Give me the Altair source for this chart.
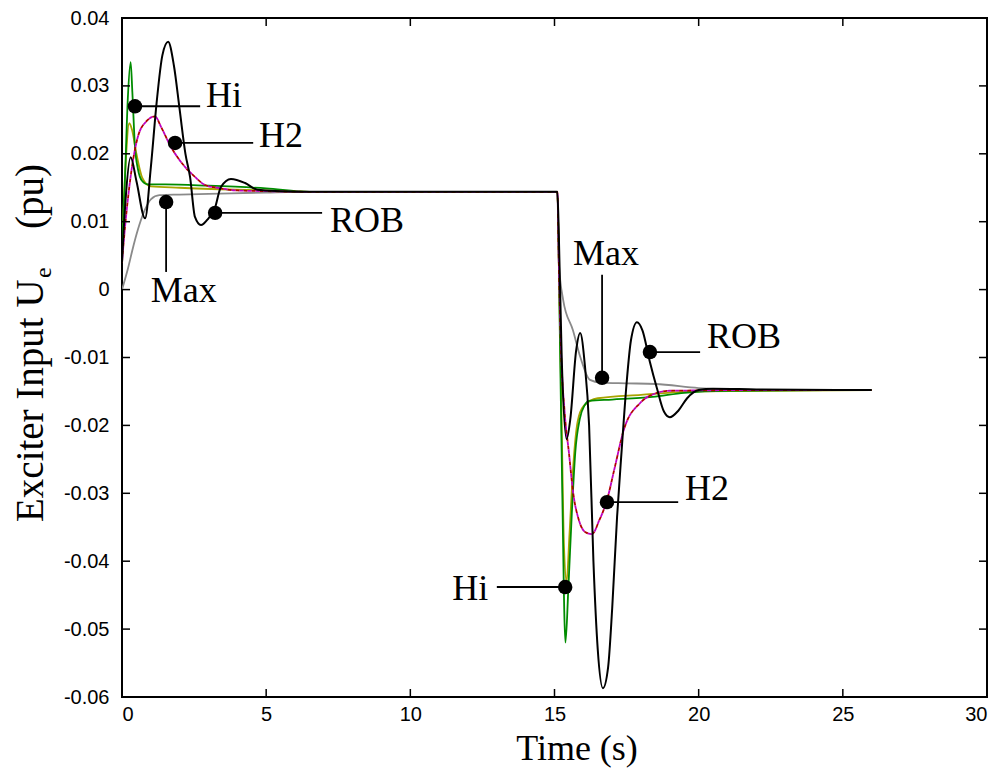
import altair as alt
import pandas as pd

# ---------------- data ----------------
rob_t = [0, 0.12, 0.3, 0.5, 0.8, 1.0, 1.2, 1.4, 1.6, 1.8, 2.0, 2.2, 2.36, 2.53, 2.74, 3.0, 3.2, 3.43,
         3.78, 4.27, 4.7, 5.5, 6.5, 10, 15.1, 15.15, 15.25, 15.42, 15.55, 15.75, 15.89, 16.05, 16.2,
         16.35, 16.5, 16.68, 16.86, 17.0, 17.17, 17.33, 17.5, 17.65, 17.86, 18.05, 18.3, 18.55, 18.8,
         19.0, 19.3, 19.6, 20.0, 20.5, 22, 26]
rob_v = [0.004, 0.013, 0.0195, 0.016, 0.0105, 0.018, 0.0275, 0.0345, 0.0365, 0.033, 0.0265, 0.020,
         0.0166, 0.0107, 0.0095, 0.0105, 0.0117, 0.0151, 0.0163, 0.0157, 0.0147, 0.0145, 0.0144,
         0.0144, 0.0144, 0.008, -0.010, -0.022, -0.019, -0.009, -0.0064, -0.011, -0.020, -0.040,
         -0.053, -0.0587, -0.0556, -0.047, -0.0335, -0.0236, -0.0138, -0.0075, -0.0048, -0.006,
         -0.0105, -0.0145, -0.018, -0.0188, -0.0178, -0.016, -0.0148, -0.0146, -0.0147, -0.0148]

max_t = [0, 0.2, 0.4, 0.6, 0.8, 1.0, 1.3, 2.0, 3.0, 5.0, 6.5, 10, 15.1, 15.15, 15.3, 15.64, 15.9,
         16.23, 16.6, 17.5, 18.5, 20, 22, 26]
max_v = [0.0, 0.003, 0.0065, 0.0095, 0.0118, 0.0133, 0.0139, 0.014, 0.0141, 0.0143, 0.0144, 0.0144,
         0.0144, 0.004, -0.0015, -0.006, -0.0100, -0.0133, -0.0137, -0.0138, -0.0139, -0.0145,
         -0.0148, -0.0148]

hi_t = [0, 0.1, 0.2, 0.3, 0.36, 0.45, 0.55, 0.7, 0.9, 1.5, 3.0, 5.0, 6.5, 10, 15.1, 15.18, 15.27,
        15.38, 15.48, 15.6, 15.72, 15.88, 16.05, 16.2, 17.0, 18.4, 19.5, 21, 26]
hi_v = [0.006, 0.016, 0.028, 0.0335, 0.029, 0.021, 0.0178, 0.016, 0.0155, 0.0155, 0.0153, 0.0149,
        0.0144, 0.0144, 0.0144, -0.005, -0.030, -0.052, -0.044, -0.033, -0.024, -0.019, -0.0170,
        -0.0164, -0.0162, -0.0158, -0.0152, -0.0149, -0.0148]

olive_t = [0, 0.12, 0.25, 0.35, 0.5, 0.7, 1.0, 2.0, 5.0, 6.5, 10, 15.1, 15.16, 15.25, 15.33, 15.42,
           15.52, 15.65, 15.8, 16.0, 16.5, 18.0, 20, 26]
olive_v = [0.006, 0.018, 0.0245, 0.0235, 0.020, 0.0165, 0.0152, 0.0150, 0.0146, 0.0144, 0.0144,
           0.0144, 0.002, -0.020, -0.038, -0.043, -0.036, -0.026, -0.0195, -0.0172, -0.0160,
           -0.0155, -0.0150, -0.0148]

h2_t = [0, 0.1, 0.25, 0.55, 0.85, 1.15, 1.35, 1.7, 2.2, 2.53, 2.88, 3.3, 4.0, 5.0, 6.5, 10, 15.1,
        15.15, 15.22, 15.35, 15.5, 15.65, 15.85, 16.1, 16.3, 16.55, 16.82, 17.1, 17.4, 17.97, 18.5,
        19.0, 22, 26]
h2_v = [0.004, 0.009, 0.015, 0.0225, 0.0248, 0.0255, 0.024, 0.021, 0.018, 0.0166, 0.0154, 0.015,
        0.0146, 0.0145, 0.0144, 0.0144, 0.0144, 0.004, -0.008, -0.018, -0.024, -0.030, -0.034,
        -0.0358, -0.036, -0.034, -0.031, -0.026, -0.0207, -0.0167, -0.0153, -0.0149, -0.0148,
        -0.0148]

# annotations
dot_t = [0.45, 1.84, 1.53, 3.23, 16.65, 18.31, 16.82, 15.37]
dot_v = [0.027, 0.0216, 0.0129, 0.0113, -0.0130, -0.0092, -0.0313, -0.0438]

lead_t = [0.45, 1.84, 1.53, 3.23, 16.65, 18.31, 16.82, 13.0]
lead_v = [0.027, 0.0216, 0.0129, 0.0113, -0.0130, -0.0092, -0.0313, -0.0438]
lead_t2 = [2.71, 4.55, 1.53, 6.94, 16.65, 20.05, 19.29, 15.37]
lead_v2 = [0.027, 0.0216, 0.0026, 0.0113, 0.0022, -0.0092, -0.0313, -0.0438]

label_text = ["Hi", "H2", "Max", "ROB", "Max", "ROB", "H2", "Hi"]
label_t = [2.91, 4.75, 1.0, 7.21, 15.64, 20.29, 19.53, 11.45]
label_v = [0.0269, 0.0210, -0.0018, 0.0085, 0.0036, -0.0086, -0.031, -0.0457]

x_ticks = [0, 5, 10, 15, 20, 25, 30]
y_ticks = [-0.06, -0.05, -0.04, -0.03, -0.02, -0.01, 0.0, 0.01, 0.02, 0.03, 0.04]

# ---------------- build ----------------
W, H = 865, 679

def frame(name, t, v):
    return pd.DataFrame({"series": name, "t": t, "v": v})

curves = pd.concat([
    frame("Max", max_t, max_v),
    frame("Olive", olive_t, olive_v),
    frame("Hi", hi_t, hi_v),
    frame("H2", h2_t, h2_v),
    frame("ROB", rob_t, rob_v),
], ignore_index=True)

x_scale = alt.Scale(domain=[0, 30], nice=False, zero=False)
y_scale = alt.Scale(domain=[-0.06, 0.04], nice=False, zero=False)

x_axis = alt.Axis(values=x_ticks, ticks=False, domain=False, grid=False, title=None,
                  labelFont="Liberation Sans", labelFontSize=20, labelColor="black",
                  labelPadding=7, format="d")
y_axis = alt.Axis(values=y_ticks, ticks=False, domain=False, grid=False, title=None,
                  labelFont="Liberation Sans", labelFontSize=20, labelColor="black",
                  labelPadding=13,
                  labelExpr="abs(datum.value) < 1e-9 ? '0' : (datum.value < 0 ? '-' + format(-datum.value, '.2f') : format(datum.value, '.2f'))")

X = alt.X("t:Q", scale=x_scale, axis=x_axis)
Y = alt.Y("v:Q", scale=y_scale, axis=y_axis)


def line(name, color, width, dash=None, offset=None):
    kw = dict(color=color, strokeWidth=width, interpolate="monotone", clip=True)
    if dash is not None:
        kw["strokeDash"] = dash
    if offset is not None:
        kw["strokeDashOffset"] = offset
    return (alt.Chart(curves).transform_filter(alt.datum.series == name)
            .mark_line(**kw).encode(x=X, y=Y))


layers = [
    line("Max", "#8a8a8a", 1.8),
    line("Olive", "#a8a400", 1.8),
    line("Hi", "#008c00", 1.8),
    line("H2", "#b00000", 1.8, dash=[4, 4]),
    line("H2", "#c000c0", 1.8, dash=[4, 4], offset=4),
    line("ROB", "#000000", 2.0),
]

# inward ticks
xt = pd.DataFrame({"t": x_ticks})
yt = pd.DataFrame({"v": y_ticks})
tick_style = dict(color="black", strokeWidth=1.5)
layers += [
    alt.Chart(xt).mark_rule(**tick_style).encode(x=X, y=alt.value(H), y2=alt.value(H - 8)),
    alt.Chart(xt).mark_rule(**tick_style).encode(x=X, y=alt.value(0), y2=alt.value(8)),
    alt.Chart(yt).mark_rule(**tick_style).encode(y=Y, x=alt.value(0), x2=alt.value(8)),
    alt.Chart(yt).mark_rule(**tick_style).encode(y=Y, x=alt.value(W), x2=alt.value(W - 8)),
]

# annotations
leads = pd.DataFrame({"t": lead_t, "v": lead_v, "t2": lead_t2, "v2": lead_v2})
dots = pd.DataFrame({"t": dot_t, "v": dot_v})
labels = pd.DataFrame({"t": label_t, "v": label_v, "label": label_text})

layers += [
    alt.Chart(leads).mark_rule(color="black", strokeWidth=1.8).encode(
        x=X, y=Y, x2="t2:Q", y2="v2:Q"),
    alt.Chart(dots).mark_circle(color="black", size=210, opacity=1).encode(x=X, y=Y),
    alt.Chart(labels).mark_text(font="Liberation Serif", fontSize=36, align="left",
                                baseline="alphabetic", color="black").encode(
        x=X, y=Y, text="label:N"),
]

# axis titles (as text, to allow the subscript)
title_df = pd.DataFrame({"a": [1]})
layers += [
    alt.Chart(title_df).mark_text(text="Time (s)", font="Liberation Serif", fontSize=36,
                                  align="center", baseline="alphabetic", color="black").encode(
        x=alt.value(455), y=alt.value(742)),
    alt.Chart(title_df).mark_text(text="Exciter Input U", font="Liberation Serif", fontSize=39,
                                  angle=270, align="left", baseline="alphabetic",
                                  color="black").encode(x=alt.value(-79), y=alt.value(504)),
    alt.Chart(title_df).mark_text(text="e", font="Liberation Serif", fontSize=24,
                                  angle=270, align="left", baseline="alphabetic",
                                  color="black").encode(x=alt.value(-71), y=alt.value(260)),
    alt.Chart(title_df).mark_text(text="(pu)", font="Liberation Serif", fontSize=39,
                                  angle=270, align="left", baseline="alphabetic",
                                  color="black").encode(x=alt.value(-79), y=alt.value(211)),
]

chart = alt.layer(*layers).properties(
    width=W, height=H,
    padding={"left": 114, "top": 10, "right": 11, "bottom": 71},
    autosize=alt.AutoSizeParams(type="none"),
    background="white",
).configure_view(stroke="black", strokeWidth=2)

chart.save("out.html", embed_options={"renderer": "svg", "actions": False})
